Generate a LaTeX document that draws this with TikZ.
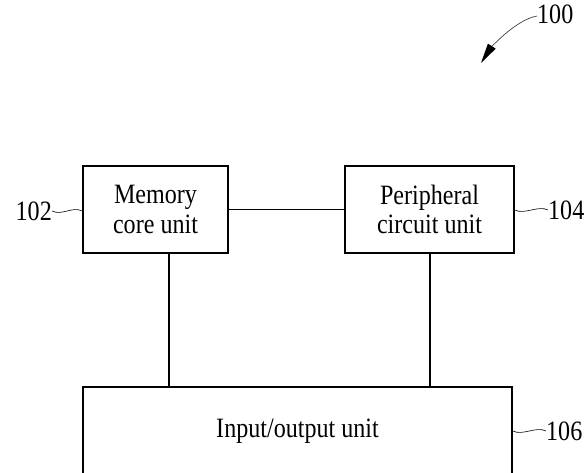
\documentclass[tikz,border=0pt]{standalone}
\usepackage{fontspec}
\setmainfont{Liberation Serif}[FakeStretch=0.86]
\usetikzlibrary{arrows.meta}
\begin{document}
\begin{tikzpicture}[x=1pt,y=1pt,
  txt/.style={font=\fontsize{28}{29.5}\selectfont},
  box/.style={draw, line width=1.4pt, inner sep=0pt, align=center, txt},
  lbl/.style={inner sep=0pt, txt},
  conn/.style={line width=1.4pt},
  squig/.style={line width=0.6pt}]
\useasboundingbox (0,0) rectangle (586,473);
\node[box, minimum width=145, minimum height=87] (mem) at (155.5,263.5) {Memory\\core unit};
\node[box, minimum width=169, minimum height=87] (per) at (429.5,263.5) {Peripheral\\circuit unit};
\node[box, minimum width=429, minimum height=88] (io) at (297.5,42) {Input/output unit};
\draw[conn] (mem.east) -- (per.west);
\draw[conn] ([xshift=13.5pt]mem.south) -- ([xshift=13.5pt]mem.south |- io.north);
\draw[conn] ([xshift=0.5pt]per.south) -- ([xshift=0.5pt]per.south |- io.north);
\node[lbl, anchor=east] (l102) at (52,262) {102};
\node[lbl, anchor=west] (l104) at (548,263) {104};
\node[lbl, anchor=west] (l106) at (546,42) {106};
\node[lbl, anchor=west] (l100) at (537,459) {100};
\draw[squig] (l102.east) .. controls +(10,-5) and +(-10,5) .. (l102.east -| mem.west);
\draw[squig] (l104.west -| per.east) .. controls +(10,-5) and +(-10,5) .. (l104.west);
\draw[squig] (l106.west -| io.east) .. controls +(10,-5) and +(-10,5) .. (l106.west);
\coordinate (tip100) at (481,410);
\draw[line width=0.7pt, black!75, -{Triangle[length=20pt,width=9pt,color=black]}] ([yshift=-2pt]l100.west) .. controls +(-22,-4) and +(9,14) .. (tip100);
\end{tikzpicture}
\end{document}
